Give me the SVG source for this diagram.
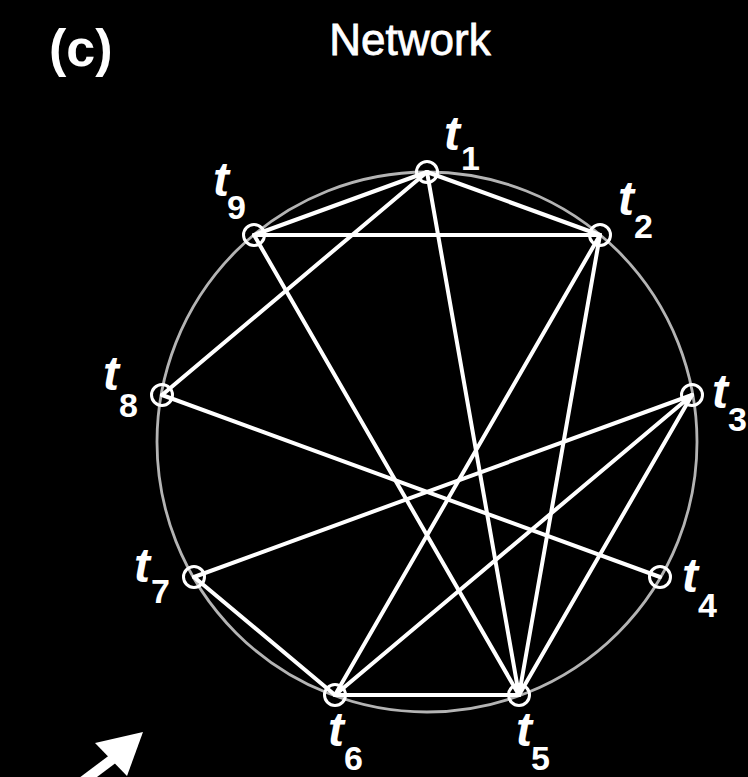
<svg xmlns="http://www.w3.org/2000/svg" width="748" height="777" viewBox="0 0 748 777">
<style>
.ring{fill:none;stroke:#b4b4b4;stroke-width:2.8}
.edge{stroke:#fff;stroke-width:4;stroke-linecap:round}
.node{fill:none;stroke:#fff;stroke-width:3}
.t{font-family:"Liberation Sans",Arial,sans-serif;font-style:italic;font-weight:bold;font-size:48px;fill:#fff}
.s{font-family:"Liberation Sans",Arial,sans-serif;font-weight:bold;font-size:34px;fill:#fff}
.title{font-family:"Liberation Sans",Arial,sans-serif;font-size:44px;fill:#fff;stroke:#fff;stroke-width:0.8}
.tag{font-family:"Liberation Sans",Arial,sans-serif;font-weight:bold;font-size:52px;fill:#fff}
</style>
<rect width="748" height="777" fill="#000"/>
<text class="tag" x="49" y="66">(c)</text>
<text class="title" x="410" y="55" text-anchor="middle">Network</text>
<circle class="ring" cx="427" cy="442" r="270"/>
<g id="connectors">
<line class="edge" x1="427" y1="172" x2="254" y2="235"/>
<line class="edge" x1="427" y1="172" x2="600" y2="235"/>
<line class="edge" x1="427" y1="172" x2="162" y2="395"/>
<line class="edge" x1="427" y1="172" x2="519" y2="695"/>
<line class="edge" x1="254" y1="235" x2="600" y2="235"/>
<line class="edge" x1="254" y1="235" x2="519" y2="695"/>
<line class="edge" x1="162" y1="395" x2="660" y2="577"/>
<line class="edge" x1="194" y1="577" x2="692" y2="395"/>
<line class="edge" x1="194" y1="577" x2="335" y2="695"/>
<line class="edge" x1="335" y1="695" x2="519" y2="695"/>
<line class="edge" x1="335" y1="695" x2="600" y2="235"/>
<line class="edge" x1="335" y1="695" x2="692" y2="395"/>
<line class="edge" x1="519" y1="695" x2="600" y2="235"/>
<line class="edge" x1="519" y1="695" x2="692" y2="395"/>
</g>
<g id="t1"><circle class="node" cx="427" cy="172" r="10.5"/><text class="t" x="444" y="150">t</text><text class="s" x="461" y="170">1</text></g>
<g id="t2"><circle class="node" cx="600" cy="235" r="10.5"/><text class="t" x="618" y="215">t</text><text class="s" x="634" y="238">2</text></g>
<g id="t3"><circle class="node" cx="692" cy="395" r="10.5"/><text class="t" x="712" y="408">t</text><text class="s" x="728" y="431">3</text></g>
<g id="t4"><circle class="node" cx="660" cy="577" r="10.5"/><text class="t" x="682" y="592">t</text><text class="s" x="698" y="617">4</text></g>
<g id="t5"><circle class="node" cx="519" cy="695" r="10.5"/><text class="t" x="516" y="746">t</text><text class="s" x="531" y="770">5</text></g>
<g id="t6"><circle class="node" cx="335" cy="695" r="10.5"/><text class="t" x="328" y="746">t</text><text class="s" x="344" y="770">6</text></g>
<g id="t7"><circle class="node" cx="194" cy="577" r="10.5"/><text class="t" x="134" y="582">t</text><text class="s" x="151" y="603">7</text></g>
<g id="t8"><circle class="node" cx="162" cy="395" r="10.5"/><text class="t" x="103" y="390">t</text><text class="s" x="119" y="417">8</text></g>
<g id="t9"><circle class="node" cx="254" cy="235" r="10.5"/><text class="t" x="213" y="196">t</text><text class="s" x="227" y="219">9</text></g>
<g id="arrow">
<line x1="82" y1="782" x2="118" y2="755" stroke="#fff" stroke-width="10"/>
<polygon points="143,732 95,743 127,776" fill="#fff"/>
</g>
</svg>
